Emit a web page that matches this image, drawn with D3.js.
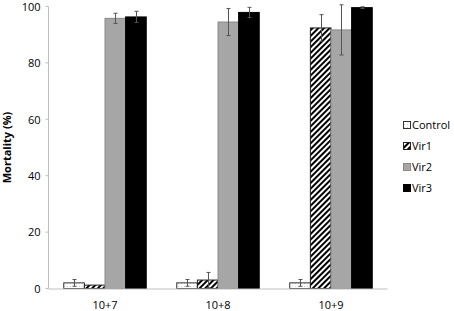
<!DOCTYPE html>
<html><head><meta charset="utf-8">
<script src="https://cdn.jsdelivr.net/npm/d3@7"></script>
<style>body{margin:0;background:#fff}svg{display:block}text{font-family:"Open Sans","Liberation Sans",Arial,sans-serif}</style>
</head><body>
<script>
const categories = ["10+7", "10+8", "10+9"];
const seriesNames = ["Control", "Vir1", "Vir2", "Vir3"];
const controlValues = [2, 2, 2];
const vir1Values = [1.2, 3, 92.4];
const vir2Values = [95.8, 94.5, 91.7];
const vir3Values = [96.3, 97.9, 99.6];
const controlErr = [1.2, 1.2, 1.2];
const vir1Err = [0, 2.7, 4.7];
const vir2Err = [1.8, 4.8, 8.9];
const vir3Err = [2, 1.8, 0.3];
const yTicks = [0, 20, 40, 60, 80, 100];

const values = [controlValues, vir1Values, vir2Values, vir3Values];
const errs = [controlErr, vir1Err, vir2Err, vir3Err];

const W = 454, H = 311;
const svg = d3.select("body").append("svg").attr("width", W).attr("height", H);
const defs = svg.append("defs");
const pd = defs.append("pattern").attr("id", "dots").attr("patternUnits", "userSpaceOnUse").attr("width", 3).attr("height", 3);
pd.append("rect").attr("width", 3).attr("height", 3).attr("fill", "#fff");
pd.append("rect").attr("x", 1).attr("y", 1).attr("width", 1).attr("height", 1).attr("fill", "#d0d0d0");
const ph = defs.append("pattern").attr("id", "hatch").attr("patternUnits", "userSpaceOnUse").attr("width", 4).attr("height", 4).attr("patternTransform", "rotate(45)");
ph.append("rect").attr("width", 4).attr("height", 4).attr("fill", "#fff");
ph.append("rect").attr("x", 0).attr("width", 2).attr("height", 4).attr("fill", "#000");

const fills = ["url(#dots)", "url(#hatch)", "#a6a6a6", "#000"];
const strokes = ["#333", "#222", "#8a8a8a", "#000"];

const x0 = d3.scaleBand().domain(categories).range([48.5, 387.5]).paddingInner(0.27).paddingOuter(0.135);
const x1 = d3.scaleBand().domain(seriesNames).range([0, x0.bandwidth()]);
const y = d3.scaleLinear().domain([0, 100]).range([288.5, 6.5]);

const gy = svg.append("g").attr("transform", "translate(48.5,0)");
gy.append("line").attr("y1", y(100)).attr("y2", y(0)).attr("stroke", "#bfbfbf");
gy.selectAll("line.t").data(yTicks).join("line").attr("class", "t")
  .attr("x1", -3).attr("x2", 0).attr("y1", d => y(d)).attr("y2", d => y(d)).attr("stroke", "#bfbfbf");
gy.selectAll("text").data(yTicks).join("text")
  .attr("x", -8).attr("y", d => y(d) + 0.5).attr("dy", "0.35em").attr("text-anchor", "end")
  .attr("font-size", 11).attr("fill", "#000").text(d => d);

svg.append("text").attr("transform", `translate(11,${(y(0)+y(100))/2}) rotate(-90)`)
  .attr("text-anchor", "middle").attr("font-size", 11).attr("font-weight", "bold").attr("fill", "#000")
  .text("Mortality (%)");

categories.forEach((c, ci) => {
  seriesNames.forEach((s, si) => {
    const v = values[si][ci];
    const bx = x0(c) + x1(s);
    svg.append("rect").attr("x", bx).attr("y", y(v)).attr("width", x1.bandwidth()).attr("height", y(0) - y(v))
      .attr("fill", fills[si]).attr("stroke", strokes[si]).attr("stroke-width", 1);
  });
});
categories.forEach((c, ci) => {
  seriesNames.forEach((s, si) => {
    const v = values[si][ci], e = errs[si][ci];
    if (!e) return;
    const cx = Math.round(x0(c) + x1(s) + x1.bandwidth() / 2) + 0.5;
    const g = svg.append("g").attr("stroke", "#555").attr("stroke-width", 1);
    g.append("line").attr("x1", cx).attr("x2", cx).attr("y1", y(v + e)).attr("y2", y(v - e));
    g.append("line").attr("x1", cx - 2).attr("x2", cx + 2).attr("y1", y(v + e)).attr("y2", y(v + e));
    g.append("line").attr("x1", cx - 2).attr("x2", cx + 2).attr("y1", y(v - e)).attr("y2", y(v - e));
  });
});

svg.append("line").attr("x1", 48.5).attr("x2", 387.5).attr("y1", y(0) + 0.5).attr("y2", y(0) + 0.5).attr("stroke", "#bfbfbf");
svg.selectAll("text.cat").data(categories).join("text").attr("class", "cat")
  .attr("x", d => x0(d) + x0.bandwidth() / 2).attr("y", 309).attr("text-anchor", "middle")
  .attr("font-size", 11).attr("fill", "#000").text(d => d);

const lg = svg.append("g").attr("transform", "translate(403,0)");
seriesNames.forEach((s, i) => {
  const ly = 125 + i * 21;
  lg.append("rect").attr("x", 0.5).attr("y", ly - 3.5).attr("width", 7).attr("height", 7)
    .attr("fill", fills[i]).attr("stroke", strokes[i]);
  lg.append("text").attr("x", 9).attr("y", ly).attr("dy", "0.35em").attr("font-size", 11).attr("fill", "#000").text(s);
});
</script>
</body></html>
